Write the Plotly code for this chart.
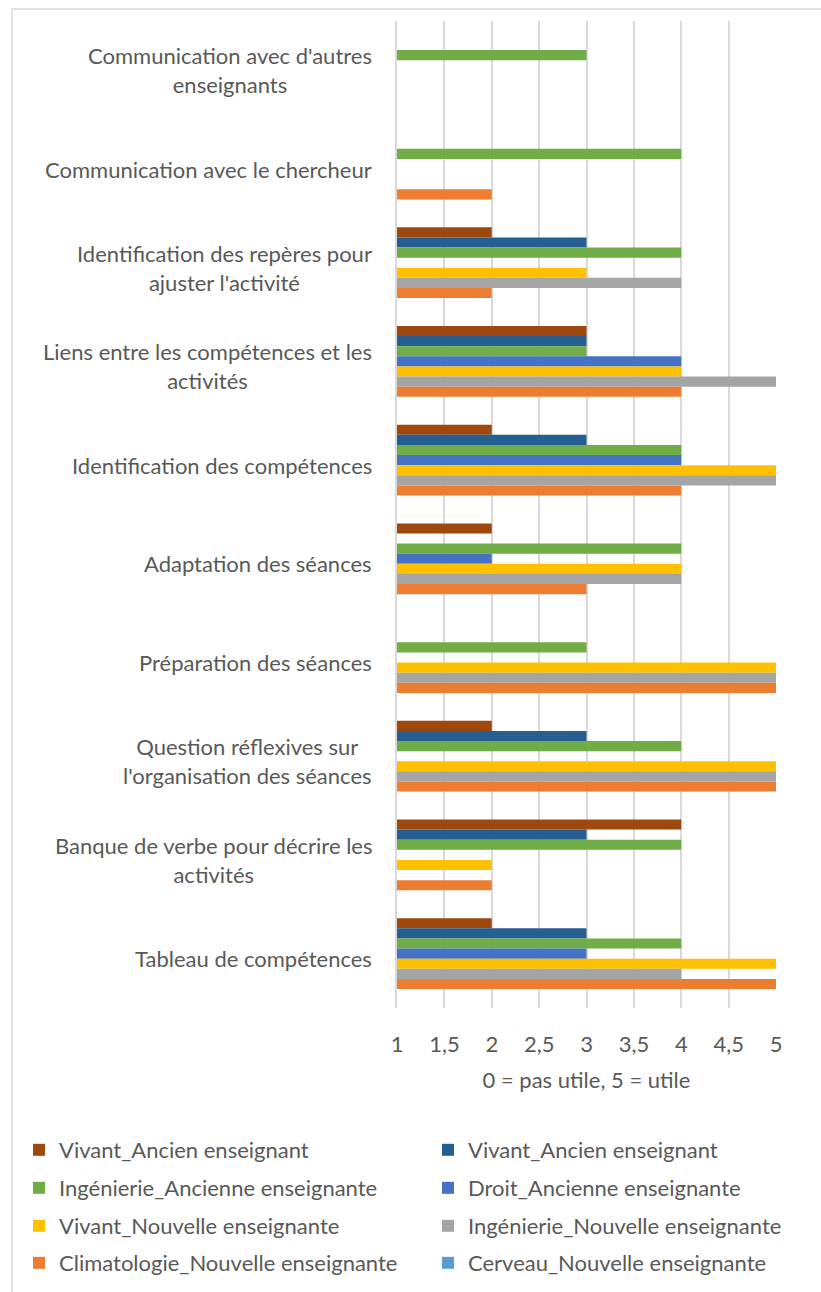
import plotly.graph_objects as go

categories = [
    "Communication avec d'autres enseignants",
    "Communication avec le chercheur",
    "Identification des repères pour ajuster l'activité",
    "Liens entre les compétences et les activités",
    "Identification des compétences",
    "Adaptation des séances",
    "Préparation des séances",
    "Question réflexives sur l'organisation des séances",
    "Banque de verbe pour décrire les activités",
    "Tableau de compétences",
]
category_labels = [
    "Communication avec d'autres<br>enseignants",
    "Communication avec le chercheur",
    "Identification des repères pour<br>ajuster l'activité",
    "Liens entre les compétences et les<br>activités",
    "Identification des compétences",
    "Adaptation des séances",
    "Préparation des séances",
    "Question réflexives sur<br>l'organisation des séances",
    "Banque de verbe pour décrire les<br>activités",
    "Tableau de compétences",
]

series_names = [
    "Vivant_Ancien enseignant",
    "Vivant_Ancien enseignant",
    "Ingénierie_Ancienne enseignante",
    "Droit_Ancienne enseignante",
    "Vivant_Nouvelle enseignante",
    "Ingénierie_Nouvelle enseignante",
    "Climatologie_Nouvelle enseignante",
    "Cerveau_Nouvelle enseignante",
]
vivant_ancien_1 = [None, None, 2, 3, 2, 2, None, 2, 4, 2]
vivant_ancien_2 = [None, None, 3, 3, 3, None, None, 3, 3, 3]
ingenierie_ancienne = [3, 4, 4, 3, 4, 4, 3, 4, 4, 4]
droit_ancienne = [None, None, None, 4, 4, 2, None, None, None, 3]
vivant_nouvelle = [None, None, 3, 4, 5, 4, 5, 5, 2, 5]
ingenierie_nouvelle = [None, None, 4, 5, 5, 4, 5, 5, None, 4]
climatologie_nouvelle = [None, 2, 2, 4, 4, 3, 5, 5, 2, 5]
cerveau_nouvelle = [None, None, None, None, None, None, None, None, None, None]

series_values = [
    vivant_ancien_1, vivant_ancien_2, ingenierie_ancienne, droit_ancienne,
    vivant_nouvelle, ingenierie_nouvelle, climatologie_nouvelle, cerveau_nouvelle,
]
colors = ["#9E480E", "#255E91", "#70AD47", "#4472C4",
          "#FFC000", "#A5A5A5", "#ED7D31", "#5B9BD5"]

x_ticks = [1, 1.5, 2, 2.5, 3, 3.5, 4, 4.5, 5]

FONT = "Lato"
FS = 22
TXT = "#595959"
W, H = 821, 1292
L, R, T, B = 397, 776, 21, 1008


def px_x(p):
    return (p - L) / (R - L)


def px_y(p):
    return (B - p) / (B - T)


legend_ids = ["legend"] + ["legend%d" % k for k in range(2, 9)]
legend_cols_px = [19, 428]
legend_rows_px = [1150, 1188, 1226, 1263]

fig = go.Figure()
for i, (name, vals, col) in enumerate(zip(series_names, series_values, colors)):
    fig.add_trace(go.Bar(
        y=categories, x=vals, name=name, orientation="h",
        marker=dict(color=col, line=dict(width=0)),
        legend=legend_ids[i], showlegend=True,
    ))

layout_legends = {}
for i, lid in enumerate(legend_ids):
    layout_legends[lid] = dict(
        orientation="v",
        x=px_x(legend_cols_px[i % 2]), xanchor="left",
        y=px_y(legend_rows_px[i // 2]), yanchor="middle",
        font=dict(family=FONT, size=FS, color=TXT),
        bgcolor="rgba(0,0,0,0)", itemclick=False, itemdoubleclick=False,
    )

annotations = []
for cat, lab in zip(categories, category_labels):
    annotations.append(dict(
        x=px_x(374), xref="paper", y=cat, yref="y",
        xanchor="right", yanchor="middle", align="center",
        text=lab, showarrow=False,
        font=dict(family=FONT, size=FS, color=TXT),
    ))

fig.update_layout(
    width=W, height=H,
    margin=dict(l=L, r=W - R, t=T, b=H - B, pad=0, autoexpand=False),
    paper_bgcolor="white", plot_bgcolor="white",
    barmode="group", bargap=0.18, bargroupgap=0,
    separators=", ",
    font=dict(family=FONT, size=FS, color=TXT),
    annotations=annotations,
    shapes=[dict(type="rect", xref="paper", yref="paper",
                 x0=px_x(12), x1=px_x(830), y0=px_y(1300), y1=px_y(9),
                 line=dict(color="#D9D9D9", width=1.5), fillcolor="rgba(0,0,0,0)",
                 layer="below")],
    **layout_legends,
)
fig.update_xaxes(
    range=[1, 5], tickvals=x_ticks, showgrid=True, gridcolor="#D9D9D9", gridwidth=1.5,
    zeroline=False, showline=False, ticks="", ticklabelstandoff=21, automargin=False,
    tickfont=dict(family=FONT, size=FS, color=TXT),
    title=dict(text="0 = pas utile, 5 = utile", standoff=16,
               font=dict(family=FONT, size=FS, color=TXT)),
)
fig.update_yaxes(
    categoryorder="array", categoryarray=categories, autorange="reversed",
    showticklabels=False, showgrid=False, zeroline=False, automargin=False,
    showline=True, linecolor="#D9D9D9", linewidth=1.5, ticks="",
)

fig.write_html("out.html", config={"displayModeBar": False},
               post_script="document.body.style.margin='0px';")
